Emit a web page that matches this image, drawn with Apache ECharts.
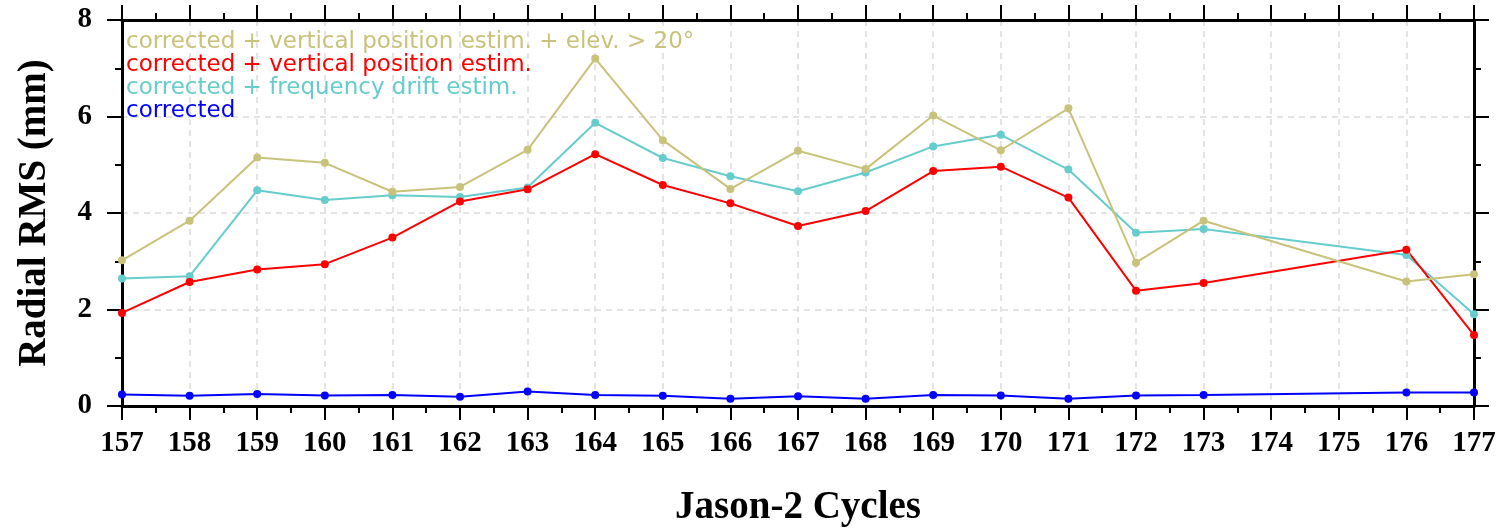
<!DOCTYPE html>
<html>
<head>
<meta charset="utf-8">
<script src="https://cdn.jsdelivr.net/npm/echarts@6/dist/echarts.min.js"></script>
<style>
html, body { margin: 0; padding: 0; background: #fff; }
#Line { width: 1506px; height: 529px; }
</style>
</head>
<body>
<div id="Line"></div>
<script>
// Jason-2 cycles, 174 and 175 have no values
var cycles = [157,158,159,160,161,162,163,164,165,166,167,168,169,170,171,172,173,174,175,176,177];
var elev20   = [3.02,3.84,5.15,5.04,4.44,4.54,5.31,7.20,5.51,4.50,5.29,4.91,6.02,5.30,6.17,2.97,3.84,null,null,2.58,2.73];
var vertPos  = [1.93,2.57,2.83,2.94,3.49,4.24,4.49,5.22,4.58,4.20,3.73,4.04,4.87,4.96,4.32,2.39,2.55,null,null,3.24,1.47];
var freqDrift= [2.64,2.69,4.47,4.27,4.37,4.33,4.53,5.87,5.14,4.76,4.45,4.84,5.38,5.62,4.90,3.59,3.67,null,null,3.13,1.90];
var corrected= [0.24,0.21,0.25,0.22,0.23,0.19,0.30,0.23,0.21,0.15,0.20,0.15,0.23,0.22,0.15,0.22,0.23,null,null,0.28,0.28];

var names = [
    'corrected + vertical position estim. + elev. > 20°',
    'corrected + vertical position estim.',
    'corrected + frequency drift estim.',
    'corrected'
];
var colors = ['#c8c27a','#ff0000','#66cccc','#0000ff'];

function pairs(vals){
    var out = [];
    for (var i = 0; i < cycles.length; i++) {
        if (vals[i] !== null) out.push([cycles[i], vals[i]]);
    }
    return out;
}

var serif = 'Liberation Serif';
var tickStyle = { color: '#000', width: 2 };

function xAx(pos){
    var top = pos === 'top';
    return {
        type: 'value', position: pos, min: 157, max: 177, interval: 1,
        axisLine: { show: true, onZero: false, lineStyle: { color: '#000', width: 3 } },
        axisTick: { show: true, inside: false, length: top ? 15 : 14, lineStyle: tickStyle },
        minorTick: { show: true, splitNumber: 2, length: 7, lineStyle: tickStyle },
        axisLabel: { show: !top, margin: 23, color: '#000', fontFamily: serif, fontWeight: 'bold', fontSize: 29 },
        splitLine: { show: !top, lineStyle: { type: [6, 5], color: '#dcdcdc', width: 1.5 } },
        name: top ? '' : 'Jason-2 Cycles',
        nameLocation: 'middle', nameGap: 82,
        nameTextStyle: { color: '#000', fontFamily: serif, fontWeight: 'bold', fontSize: 39 }
    };
}
function yAx(pos){
    var right = pos === 'right';
    return {
        type: 'value', position: pos, min: 0, max: 8, interval: 2,
        axisLine: { show: true, onZero: false, lineStyle: { color: '#000', width: 3 } },
        axisTick: { show: true, inside: false, length: 15, lineStyle: tickStyle },
        minorTick: { show: true, splitNumber: 2, length: 7, lineStyle: tickStyle },
        axisLabel: { show: !right, margin: 30, color: '#000', fontFamily: serif, fontWeight: 'bold', fontSize: 29 },
        splitLine: { show: !right, lineStyle: { type: [6, 5], color: '#dcdcdc', width: 1.5 } },
        name: right ? '' : 'Radial RMS (mm)',
        nameLocation: 'middle', nameGap: 68,
        nameTextStyle: { color: '#000', fontFamily: serif, fontWeight: 'bold', fontSize: 39 }
    };
}

var allVals = [elev20, vertPos, freqDrift, corrected];
var series = [];
for (var k = allVals.length - 1; k >= 0; k--) {
    series.push({
        name: names[k], type: 'line', xAxisIndex: 0, yAxisIndex: 0,
        data: pairs(allVals[k]),
        symbol: 'circle', symbolSize: 8,
        lineStyle: { color: colors[k], width: 2 },
        itemStyle: { color: colors[k] },
        animation: false
    });
}

var myChart = echarts.init(document.getElementById('Line'));
var option = {
    backgroundColor: '#fff',
    grid: { left: 122, right: 32, top: 20, bottom: 123, outerBoundsMode: 'none' },
    legend: {
        orient: 'vertical', left: 120, top: 26, itemGap: 0,
        itemWidth: 0, itemHeight: 0, icon: 'rect',
        selectedMode: false,
        data: names.map(function(n, i){
            return { name: n, textStyle: { color: colors[i] } };
        }),
        textStyle: { fontFamily: 'DejaVu Sans', fontSize: 23, padding: [0,0,0,-4] }
    },
    xAxis: [xAx('bottom'), xAx('top')],
    yAxis: [yAx('left'), yAx('right')],
    series: series
};
myChart.setOption(option);
</script>
</body>
</html>
